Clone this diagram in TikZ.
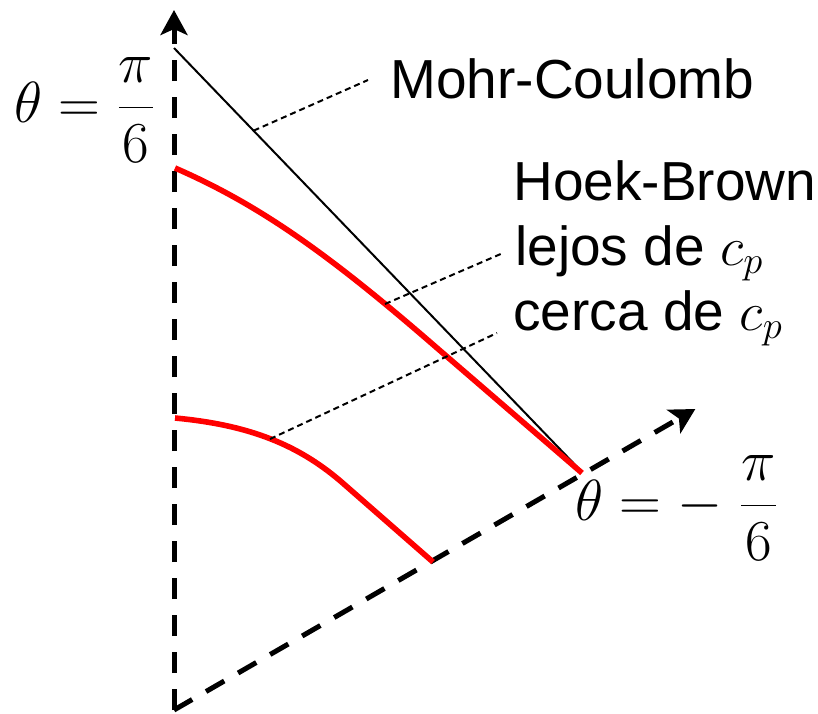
\documentclass[tikz,border=0pt]{standalone}
\usepackage{fix-cm}
\usepackage{fontspec}
\setmainfont{Liberation Sans}
\usetikzlibrary{arrows.meta,positioning,calc}
\definecolor{hbred}{HTML}{FF0000}

\begin{document}
\begin{tikzpicture}[x=0.5pt,y=-0.5pt,
  axis/.style={line width=2.5pt,dash pattern=on 10.5pt off 8pt,
    -{Stealth[length=12.5pt,width=13.5pt,inset=3pt]}},
  mcline/.style={line width=1pt},
  hbcurve/.style={hbred,line width=2.8pt},
  leader/.style={line width=1pt,dash pattern=on 3pt off 2pt},
  lbl/.style={inner sep=0pt,anchor=base west,font=\fontsize{27.5}{33}\selectfont},
  anglelbl/.style={inner sep=0pt,font=\fontsize{29}{35}\selectfont}]
  \useasboundingbox (0,0) rectangle (818,713);
  % axes
  \coordinate (O) at (174,710);
  \coordinate (vtip) at (174,10);
  \coordinate (dtip) at ($(O)+(-30:602)$);
  \draw[axis] (O) -- (vtip);
  \draw[axis] (O) -- (dtip);
  % Mohr-Coulomb
  \coordinate (mctop) at (174,48);
  \coordinate (mcbot) at (582,472);
  \draw[mcline] (mctop) -- (mcbot);
  % Hoek-Brown, far and near
  \draw[hbcurve] (175,168) .. controls (260,205) and (330,255) .. (437,348) -- (582,473);
  \draw[hbcurve] (175,418) .. controls (250,425) and (300,445) .. (345,485) -- (433,562);
  % labels
  \node[lbl] (mc) at (390,98) {Mohr-Coulomb};
  \node[lbl] (hb) at (513,200) {Hoek-Brown};
  \node[lbl] (lejos) at (515,265) {lejos de $c_p$};
  \node[lbl] (cerca) at (513,330) {cerca de $c_p$};
  \node[anglelbl] (tpos) at (85,110) {$\displaystyle\theta = \frac{\pi}{6}$};
  \node[anglelbl] (tneg) at (677,508) {$\displaystyle\theta = -\;\frac{\pi}{6}$};
  % leaders
  \coordinate (mcpt) at ($(mctop)!0.195!(mcbot)$);
  \coordinate (lejospt) at (385,304);
  \coordinate (cercapt) at (270,439);
  \draw[leader] (mcpt) -- ($(mc.base west)+(-22,-18)$);
  \draw[leader] (lejospt) -- ($(lejos.base west)+(-12,-12)$);
  \draw[leader] (cercapt) -- ($(cerca.base west)+(-16,3)$);
\end{tikzpicture}
\end{document}
